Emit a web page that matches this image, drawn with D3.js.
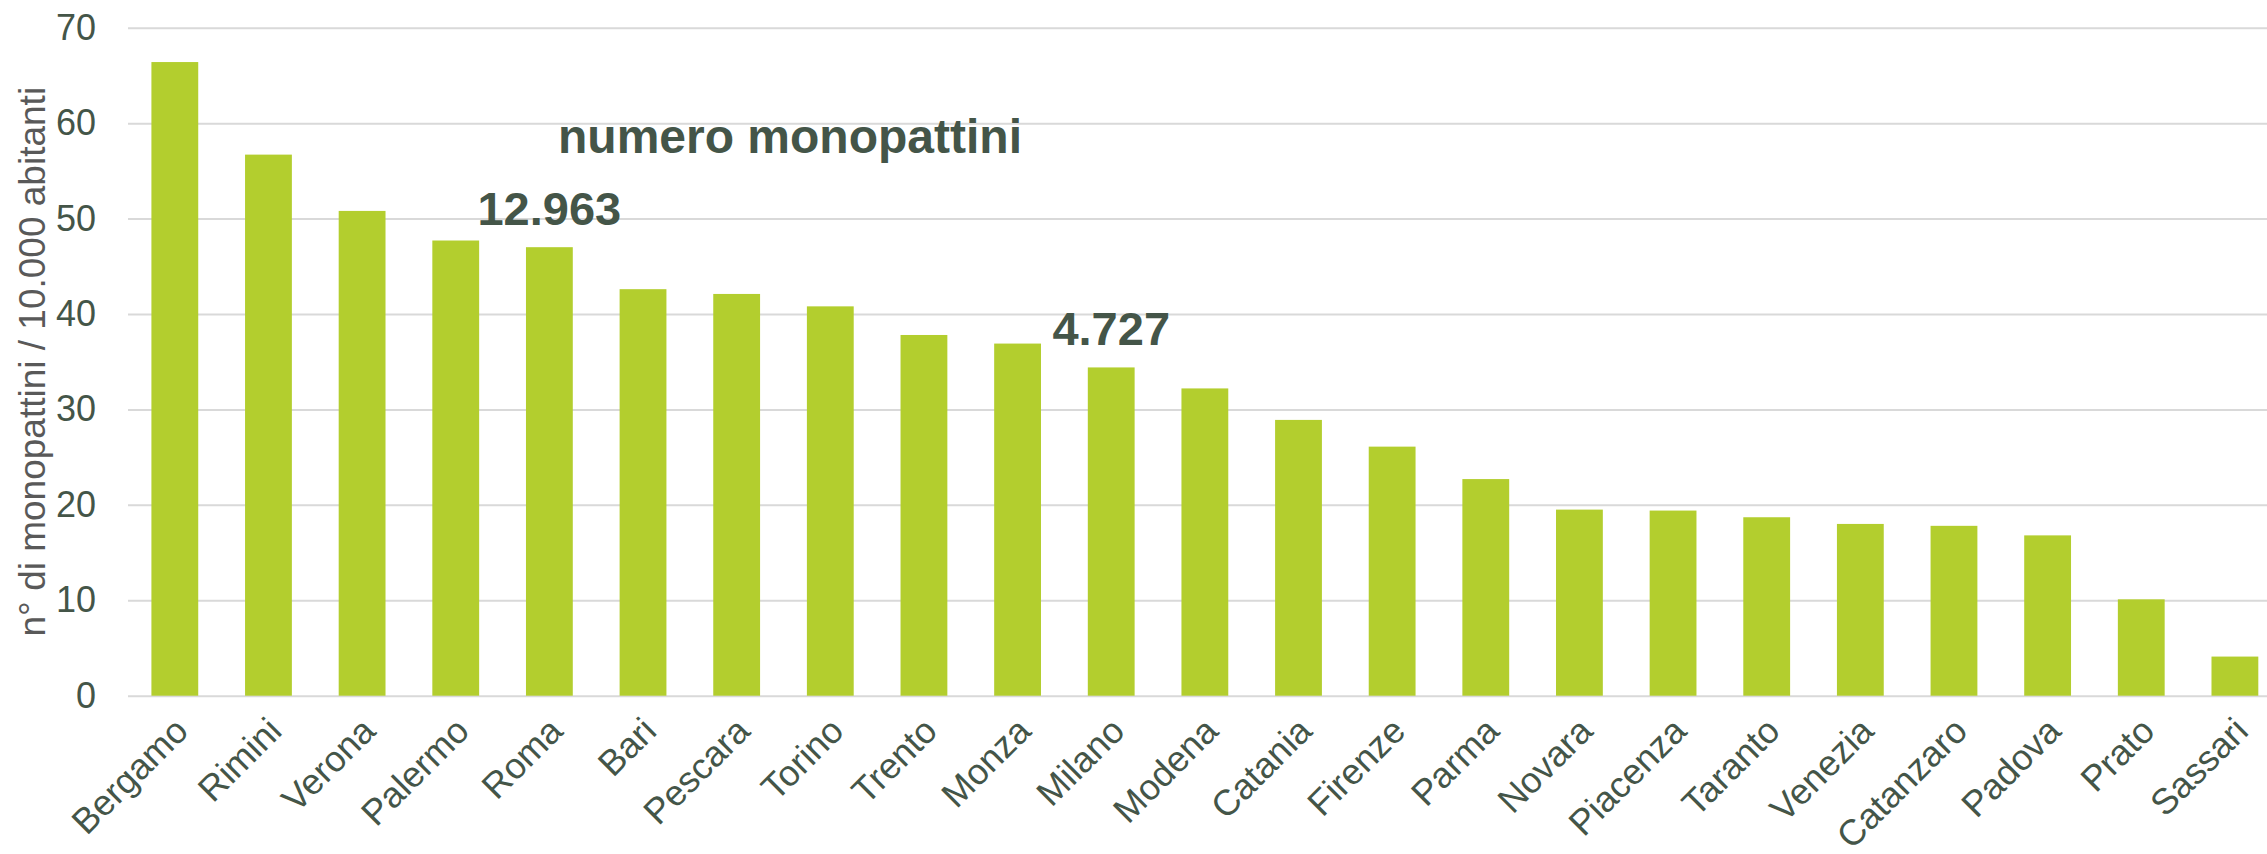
<!DOCTYPE html>
<html>
<head>
<meta charset="utf-8">
<title>numero monopattini</title>
<style type="text/css">
    body {
        margin: 0;
        background: #ffffff;
        font-family: "Liberation Sans", Arial, sans-serif;
    }

    .grid line {
        stroke: #d9d9d9;
        stroke-width: 2;
    }

    .grid text {
        fill: #445548;
        font-size: 36px;
    }

    .bar {
        fill: #b3ce2e;
    }

    .city {
        fill: #445548;
        font-size: 36px;
        text-anchor: end;
    }

    .note {
        fill: #445548;
        font-size: 47px;
        font-weight: bold;
        text-anchor: middle;
    }
</style>
</head>
<body>
<script src="https://cdn.jsdelivr.net/npm/d3@7"></script>
<script type="text/javascript">

    // monopattini ogni 10.000 abitanti, per città
    var cities = ["Bergamo", "Rimini", "Verona", "Palermo", "Roma", "Bari", "Pescara", "Torino",
        "Trento", "Monza", "Milano", "Modena", "Catania", "Firenze", "Parma", "Novara",
        "Piacenza", "Taranto", "Venezia", "Catanzaro", "Padova", "Prato", "Sassari"];
    var values = [66.4, 56.7, 50.8, 47.7, 47.0, 42.6, 42.1, 40.8,
        37.8, 36.9, 34.4, 32.2, 28.9, 26.1, 22.7, 19.5,
        19.4, 18.7, 18.0, 17.8, 16.8, 10.1, 4.1];
    var yTicks = [0, 10, 20, 30, 40, 50, 60, 70];

    // etichette "numero monopattini" sopra alcune barre
    var noteCities = ["Roma", "Milano"];
    var noteTexts = ["12.963", "4.727"];

    var width = 2267, height = 854;
    var plot = { left: 128, top: 27.7, bottom: 695.7 };
    var step = 93.64;

    var svg = d3.select("body").append("svg")
        .attr("width", width)
        .attr("height", height);

    var x = d3.scaleBand()
        .domain(cities)
        .range([plot.left, plot.left + step * cities.length])
        .paddingInner(0.5)
        .paddingOuter(0.25);

    var y = d3.scaleLinear()
        .domain([0, 70])
        .range([plot.bottom, plot.top]);

    var gridWidth = step * cities.length;

    // griglia + etichette asse y
    var grid = svg.append("g")
        .attr("class", "grid")
        .attr("transform", "translate(" + plot.left + ",0)")
        .call(d3.axisLeft(y)
            .tickValues(yTicks)
            .tickSize(-gridWidth)
            .tickPadding(32)
            .tickFormat(d3.format("d")));
    grid.select(".domain").remove();
    grid.selectAll("text")
        .attr("font-family", null)
        .attr("font-size", null);

    // barre
    svg.append("g")
        .selectAll("rect")
        .data(cities)
        .enter().append("rect")
        .attr("class", "bar")
        .attr("x", function (d) { return x(d); })
        .attr("width", x.bandwidth())
        .attr("y", function (d, i) { return y(values[i]); })
        .attr("height", function (d, i) { return y(0) - y(values[i]); });

    // etichette città
    svg.append("g")
        .selectAll("text")
        .data(cities)
        .enter().append("text")
        .attr("class", "city")
        .attr("dy", "0.72em")
        .attr("transform", function (d) {
            return "translate(" + (x(d) + x.bandwidth() / 2 - 3) + "," + (plot.bottom + 19) + ") rotate(-45)";
        })
        .text(function (d) { return d; });

    // titolo asse y
    svg.append("text")
        .attr("transform", "translate(45," + ((plot.top + plot.bottom) / 2) + ") rotate(-90)")
        .attr("text-anchor", "middle")
        .style("font-size", "37px")
        .style("fill", "#595959")
        .text("n° di monopattini / 10.000 abitanti");

    // etichette numero monopattini
    svg.append("g")
        .selectAll("text")
        .data(noteCities)
        .enter().append("text")
        .attr("class", "note")
        .attr("x", function (d) { return x(d) + x.bandwidth() / 2; })
        .attr("y", function (d) { return y(values[cities.indexOf(d)]) - 22; })
        .text(function (d, i) { return noteTexts[i]; });

    svg.append("text")
        .attr("class", "note")
        .attr("x", 790)
        .attr("y", 153)
        .style("font-size", "48px")
        .text("numero monopattini");

</script>
</body>
</html>
